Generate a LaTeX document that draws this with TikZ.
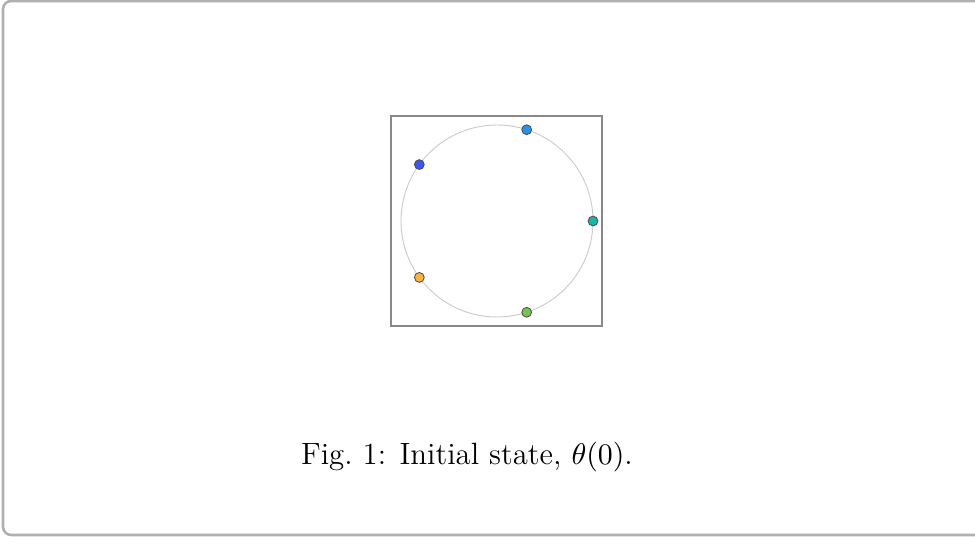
\documentclass[tikz,border=0pt]{standalone}
\usetikzlibrary{positioning, calc}

\definecolor{ringgray}{HTML}{CCCCCC}
\definecolor{framegray}{HTML}{B0B0B0}
\definecolor{boxgray}{HTML}{888888}
\definecolor{dotteal}{HTML}{1AB5A5}
\definecolor{dotsky}{HTML}{2196F0}
\definecolor{dotblue}{HTML}{3F55F0}
\definecolor{dotorange}{HTML}{FDB340}
\definecolor{dotgreen}{HTML}{78C24E}

\begin{document}
\begin{tikzpicture}[
		x=0.0129cm, y=-0.0129cm,
		oscillator/.style={circle, draw=black!70, line width=0.3pt, minimum size=3.6pt, inner sep=0pt},
		caption/.style={font=\fontsize{11.3}{13}\selectfont, inner sep=0pt}
		]
		\useasboundingbox (0,0) rectangle (975,537);
		
		% Outer panel, its right edge runs off the page
		\draw[framegray, line width=0.95pt, rounded corners=3pt] (3,1) rectangle (990,535);
		
		% Frame and the unit circle
		\draw[boxgray, line width=0.45pt] (391,116) rectangle (602,326);
		\coordinate (centre) at (497,221);
		\draw[ringgray, line width=0.35pt] (centre) circle[radius=96];
		
		% Phases theta_i(0), evenly spread
		\foreach \ang/\col [count=\i] in {0/dotteal, 72/dotsky, 144/dotblue, 216/dotorange, 288/dotgreen}
		\node[oscillator, fill=\col] (osc\i) at ($(centre)+(-\ang:96)$) {};
		
		% Caption below the frame
		\node[caption] (figcap) at (467,457) {Fig.~1: Initial state, $\theta(0)$.};
		
	\end{tikzpicture}
\end{document}
